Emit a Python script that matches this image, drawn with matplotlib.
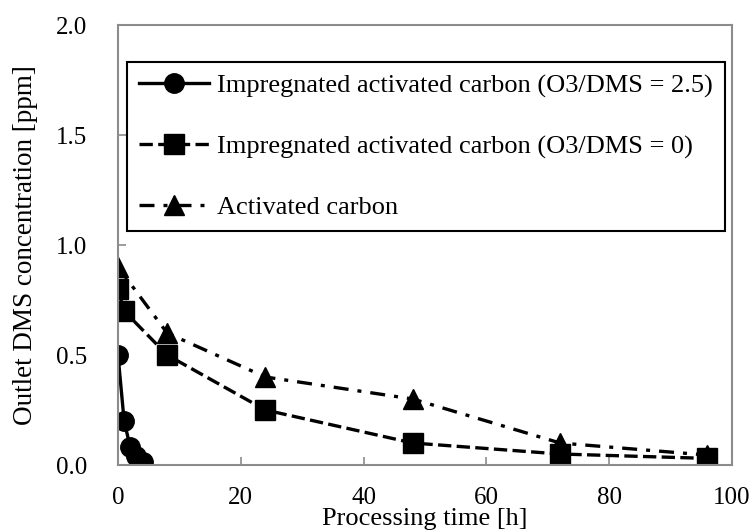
import matplotlib
matplotlib.use("Agg")
import matplotlib.pyplot as plt

# data
t_imp25 = [0, 1, 2, 3, 4]
c_imp25 = [0.5, 0.2, 0.08, 0.04, 0.015]

t_imp0 = [0, 1, 8, 24, 48, 72, 96]
c_imp0 = [0.8, 0.7, 0.5, 0.25, 0.1, 0.05, 0.03]

t_ac = [0, 8, 24, 48, 72, 96]
c_ac = [0.9, 0.6, 0.4, 0.3, 0.1, 0.045]

labels = ["Impregnated activated carbon (O3/DMS = 2.5)",
          "Impregnated activated carbon (O3/DMS = 0)",
          "Activated carbon"]

plt.rcParams["font.family"] = ["Liberation Serif", "DejaVu Serif"]
plt.rcParams["font.size"] = 18

W, H = 750, 531
fig = plt.figure(figsize=(W / 100, H / 100), dpi=100)
ax = fig.add_axes([118 / W, (H - 465) / H, 614 / W, 440 / H])

lw = 2.4
ax.plot(t_imp25, c_imp25, color="black", lw=lw, ls="-",
        marker="o", markersize=14, label=labels[0])
ax.plot(t_imp0, c_imp0, color="black", lw=lw, ls=(0, (4, 1.6)),
        marker="s", markersize=14, label=labels[1])
ax.plot(t_ac, c_ac, color="black", lw=lw, ls=(0, (4.5, 2.7, 1.2, 2.7)),
        marker="^", markersize=14, label=labels[2])

ax.set_xlim(0, 100)
ax.set_ylim(0, 2.0)
ax.set_xticks([0, 20, 40, 60, 80, 100])
ax.set_yticks([0.0, 0.5, 1.0, 1.5, 2.0])
ax.set_yticklabels(["0.0", "0.5", "1.0", "1.5", "2.0"])

gray = "#8c8c8c"
for s in ax.spines.values():
    s.set_color(gray)
    s.set_linewidth(1.5)
ax.tick_params(direction="in", color=gray, width=1.2, length=6)
ax.tick_params(axis="x", pad=16)
ax.tick_params(axis="y", pad=22)

ax.set_xlabel("Processing time [h]", fontsize=19)
ax.set_ylabel("Outlet DMS concentration [ppm]", fontsize=19.5)
ax.xaxis.set_label_coords(0.5, -(508 - 465) / 440)
ax.yaxis.set_label_coords(-(118 - 38) / 614, 0.5)

leg = ax.legend(loc="upper left", mode="expand", fontsize=19,
                bbox_to_anchor=(127 / W, 1 - 62 / H, (725 - 127) / W, 0),
                bbox_transform=fig.transFigure, borderaxespad=0,
                handlelength=2.65, handletextpad=0.3, labelspacing=1.4,
                borderpad=0.45, fancybox=False, framealpha=1)
leg.get_frame().set_edgecolor("black")
leg.get_frame().set_linewidth(1.5)

fig.savefig("out.png", dpi=100)
